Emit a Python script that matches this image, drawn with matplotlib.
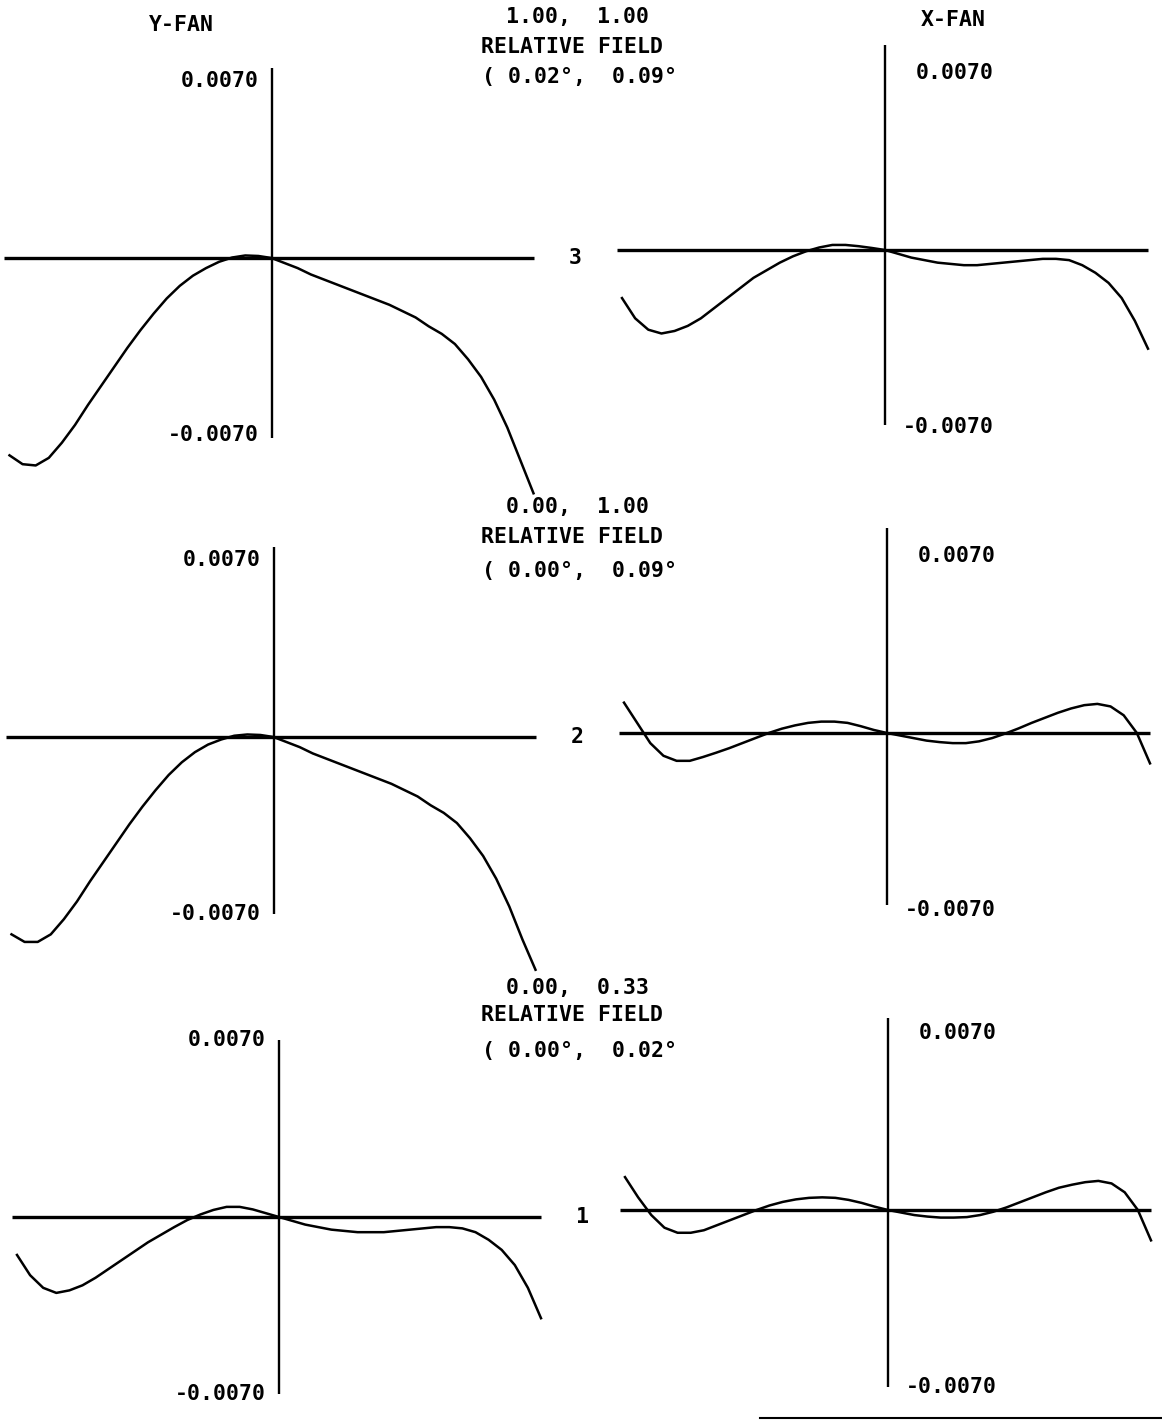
import matplotlib
matplotlib.use("Agg")
import matplotlib.pyplot as plt
from matplotlib.lines import Line2D

W, H = 1162, 1425
PX_PER_UNIT = 25300.0  # vertical pixels per mm of ray error

# ---- data: normalized pupil coordinate vs ray error (mm) ----
pupil = [-1.00, -0.95, -0.90, -0.85, -0.80, -0.75, -0.70, -0.65, -0.60, -0.55, -0.50,
         -0.45, -0.40, -0.35, -0.30, -0.25, -0.20, -0.15, -0.10, -0.05, 0.00,
         0.05, 0.10, 0.15, 0.20, 0.25, 0.30, 0.35, 0.40, 0.45, 0.50,
         0.55, 0.60, 0.65, 0.70, 0.75, 0.80, 0.85, 0.90, 0.95, 1.00]

# field 3 (1.00, 1.00)
y3_err = [-0.0078, -0.00815, -0.0082, -0.0079, -0.0073, -0.0066, -0.0058, -0.00505, -0.0043,
          -0.00355, -0.00285, -0.0022, -0.0016, -0.0011, -0.0007, -0.0004, -0.00015, 0.00002,
          0.0001, 0.00008, 0.0, -0.0002, -0.0004, -0.00065, -0.00085, -0.00105, -0.00125,
          -0.00145, -0.00165, -0.00185, -0.0021, -0.00235, -0.0027, -0.0030, -0.0034, -0.0040,
          -0.0047, -0.0056, -0.0067, -0.0080, -0.0093]
x3_err = [-0.0019, -0.0027, -0.00315, -0.0033, -0.0032, -0.0030, -0.0027, -0.0023, -0.0019,
          -0.0015, -0.0011, -0.0008, -0.0005, -0.00025, -0.00005, 0.0001, 0.0002, 0.0002,
          0.00015, 0.00008, 0.0, -0.00015, -0.0003, -0.0004, -0.0005, -0.00055, -0.0006,
          -0.0006, -0.00055, -0.0005, -0.00045, -0.0004, -0.00035, -0.00035, -0.0004, -0.0006,
          -0.0009, -0.0013, -0.0019, -0.0028, -0.0039]

# field 2 (0.00, 1.00)
y2_err = [-0.0078, -0.0081, -0.0081, -0.0078, -0.0072, -0.0065, -0.0057, -0.00495, -0.0042,
          -0.00345, -0.00275, -0.0021, -0.0015, -0.001, -0.0006, -0.0003, -0.0001, 0.00005,
          0.0001, 0.00008, 0.0, -0.0002, -0.0004, -0.00065, -0.00085, -0.00105, -0.00125,
          -0.00145, -0.00165, -0.00185, -0.0021, -0.00235, -0.0027, -0.0030, -0.0034, -0.0040,
          -0.0047, -0.0056, -0.0067, -0.0080, -0.0092]
x2_err = [0.0012, 0.0004, -0.0004, -0.0009, -0.0011, -0.0011, -0.00095, -0.00078, -0.0006,
          -0.0004, -0.0002, 0.0, 0.00017, 0.0003, 0.0004, 0.00045, 0.00045, 0.0004, 0.00027,
          0.00012, 0.0, -0.0001, -0.0002, -0.0003, -0.00036, -0.0004, -0.0004, -0.00033,
          -0.0002, -0.00002, 0.00018, 0.0004, 0.0006, 0.0008, 0.00097, 0.0011, 0.00115, 0.00105,
          0.0007, 0.0, -0.0012]

# field 1 (0.00, 0.33)
y1_err = [-0.0015, -0.0023, -0.0028, -0.0030, -0.0029, -0.0027, -0.0024, -0.00205, -0.0017,
          -0.00135, -0.001, -0.0007, -0.0004, -0.00012, 0.0001, 0.00028, 0.0004, 0.0004,
          0.0003, 0.00015, 0.0, -0.00015, -0.0003, -0.0004, -0.0005, -0.00055, -0.0006, -0.0006,
          -0.0006, -0.00055, -0.0005, -0.00045, -0.0004, -0.0004, -0.00045, -0.0006, -0.0009,
          -0.0013, -0.0019, -0.0028, -0.0040]
x1_err = [0.0013, 0.0005, -0.0002, -0.0007, -0.0009, -0.0009, -0.0008, -0.0006, -0.0004,
          -0.0002, 0.0, 0.00018, 0.00032, 0.00042, 0.00048, 0.0005, 0.00048, 0.0004, 0.00028,
          0.00013, 0.0, -0.0001, -0.0002, -0.00026, -0.0003, -0.0003, -0.00028, -0.0002,
          -0.00007, 0.0001, 0.0003, 0.0005, 0.0007, 0.00088, 0.001, 0.0011, 0.00115, 0.00105,
          0.0007, 0.0, -0.0012]

field_numbers = ["3", "2", "1"]
field_rel = ["1.00,  1.00", "0.00,  1.00", "0.00,  0.33"]
field_deg = ["( 0.02°,  0.09°", "( 0.00°,  0.09°", "( 0.00°,  0.02°"]
scale_labels = ["0.0070", "-0.0070"]

FONT = dict(family="DejaVu Sans Mono", fontsize=15.5, fontweight="bold", color="black")


def px_axes(fig, cx, cy, half):
    # axes whose origin sits at pixel (cx, cy), pupil +-1 spans +-half pixels
    x0, x1 = -1.03, 1.03
    y0, y1 = -0.0105, 0.0085
    left = cx + x0 * half
    right = cx + x1 * half
    top = cy - y1 * PX_PER_UNIT
    bottom = cy - y0 * PX_PER_UNIT
    ax = fig.add_axes([left / W, 1 - bottom / H, (right - left) / W, (bottom - top) / H])
    ax.set_xlim(x0, x1)
    ax.set_ylim(y0, y1)
    ax.axis("off")
    return ax


def draw_fan(ax, err, vtop, vbot, label_x):
    ax.hlines(0, -1.02, 1.0, color="black", lw=2.4)
    ax.vlines(0, vbot, vtop, color="black", lw=1.7)
    ax.plot(pupil, err, color="black", lw=1.8, solid_joinstyle="round", clip_on=False)
    ax.text(label_x, 0.0070, scale_labels[0], ha="right", va="center", **FONT)
    ax.text(label_x, -0.0070, scale_labels[1], ha="right", va="center", **FONT)


fig = plt.figure(figsize=(W / 100, H / 100), dpi=100)

left_centers = [(271.5, 258), (273.5, 737), (279.0, 1217)]
right_centers = [(885.0, 250), (887.0, 733), (888.0, 1210)]
left_vlim = [(0.0075, -0.0071), (0.0075, -0.0070), (0.0070, -0.0070)]
right_vlim = [(0.0081, -0.0069), (0.0081, -0.0068), (0.0076, -0.0070)]
y_fans = [y3_err, y2_err, y1_err]
x_fans = [x3_err, x2_err, x1_err]

for i in range(3):
    cx, cy = left_centers[i]
    axl = px_axes(fig, cx, cy, 262)
    draw_fan(axl, y_fans[i], *left_vlim[i], -0.05)
    axl.text(1.16, 0, field_numbers[i], ha="center", va="center", **FONT)

    cx, cy = right_centers[i]
    axr = px_axes(fig, cx, cy, 263)
    draw_fan(axr, x_fans[i], *right_vlim[i], 0.415)

# header text per field
header_y = [(17, 47, 77), (507, 537, 571), (988, 1015, 1051)]
for i in range(3):
    y_a, y_b, y_c = header_y[i]
    fig.text(578 / W, 1 - y_a / H, field_rel[i], ha="center", va="center", **FONT)
    fig.text(572 / W, 1 - y_b / H, "RELATIVE FIELD", ha="center", va="center", **FONT)
    fig.text(580 / W, 1 - y_c / H, field_deg[i], ha="center", va="center", **FONT)

fig.text(181 / W, 1 - 25 / H, "Y-FAN", ha="center", va="center", **FONT)
fig.text(953 / W, 1 - 20 / H, "X-FAN", ha="center", va="center", **FONT)

# page rule at the bottom right
fig.add_artist(Line2D([760 / W, 1.0], [1 - 1418 / H, 1 - 1418 / H], color="black", lw=1.5))

fig.savefig("out.png", dpi=100, facecolor="white")
